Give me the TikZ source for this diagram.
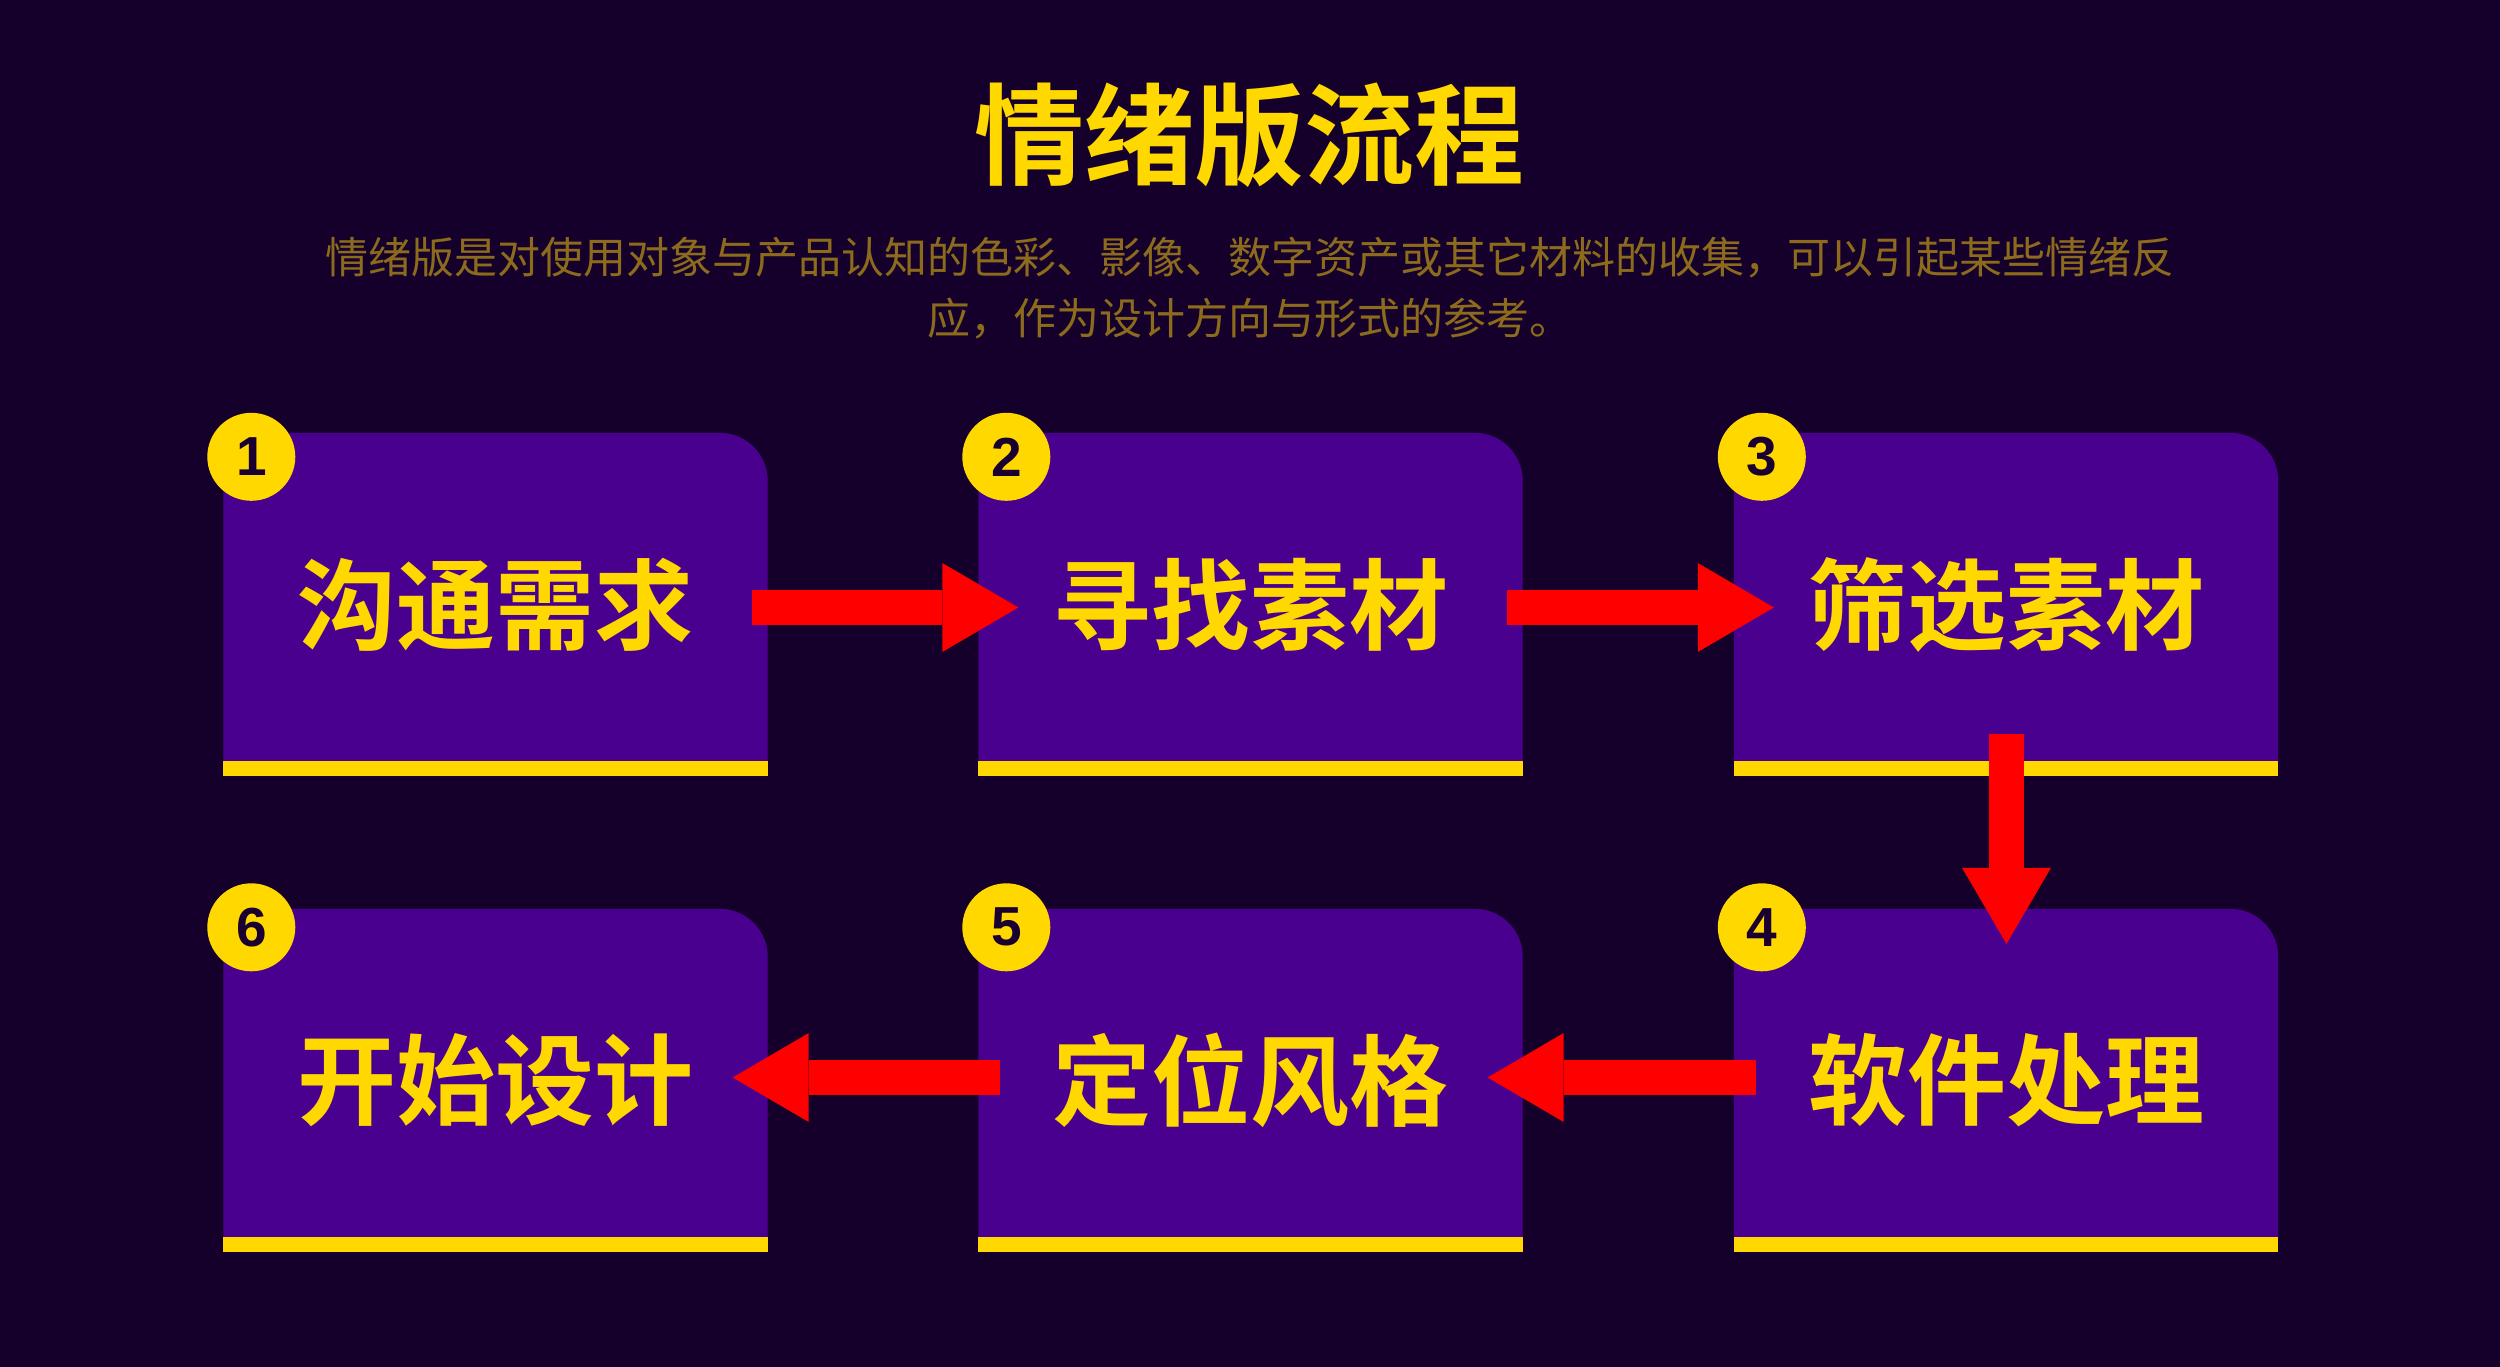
\documentclass[tikz,border=0pt]{standalone}
\usepackage{fontspec}
\newfontfamily\cjk{Noto Sans CJK SC}
\newfontfamily\cjkb{Noto Sans CJK SC Bold}
\newfontfamily\numf{Liberation Sans}
\usetikzlibrary{arrows.meta,calc}
\definecolor{bg}{HTML}{15002B}
\definecolor{boxfill}{HTML}{4A008E}
\definecolor{gold}{HTML}{FFD800}
\definecolor{subgold}{HTML}{8C6B1C}
\definecolor{arrowred}{HTML}{FF0000}
\definecolor{digit}{HTML}{1A0030}
\tikzset{
  stepbox/.style={rectangle, inner sep=0pt, minimum width=544pt, minimum height=343pt,
    text=gold, font=\cjkb\fontsize{99}{110}\selectfont},
  numcirc/.style={circle, fill=gold, inner sep=0pt, minimum size=88pt,
    text=digit, font=\numf\bfseries\fontsize{55}{60}\selectfont},
  bigarrow/.style={draw=arrowred, line width=35pt,
    -{Triangle[length=76pt,width=89pt,line width=0pt]}},
}
\newcommand\boxbody[1]{%
  \fill[boxfill] (#1.south west) -- (#1.north west) [rounded corners=48pt] -- (#1.north east) [sharp corners] -- (#1.south east) -- cycle;
  \fill[gold] ([yshift=15pt]#1.south west) rectangle (#1.south east);
}
\begin{document}
\begin{tikzpicture}[x=1pt,y=-1pt]
\fill[bg] (0,0) rectangle (2500,1367);
\useasboundingbox (0,0) rectangle (2500,1367);

% title
\node[text=gold, font=\cjkb\fontsize{110}{120}\selectfont] (title) at (1249,135) {情绪版流程};
\node[text=subgold, font=\cjk\fontsize{43}{61}\selectfont, align=center] (sub) at (1250,288)
  {情绪版是对使用对象与产品认知的色彩、影像、数字资产或其它材料的收集，可以引起某些情绪反\\应，作为设计方向与形式的参考。};

% boxes row 1
\node[stepbox] (b1) at (495.5,604.5) {};
\node[stepbox] (b2) at (1250.5,604.5) {};
\node[stepbox] (b3) at (2006,604.5) {};
% boxes row 2
\node[stepbox] (b4) at (2006,1080.5) {};
\node[stepbox] (b5) at (1250.5,1080.5) {};
\node[stepbox] (b6) at (495.5,1080.5) {};

\boxbody{b1}\boxbody{b2}\boxbody{b3}\boxbody{b4}\boxbody{b5}\boxbody{b6}

\node[stepbox] (t1) at (b1) {沟通需求};
\node[stepbox] (t2) at (b2) {寻找素材};
\node[stepbox] (t3) at (b3) {筛选素材};
\node[stepbox] (t4) at (b4) {软件处理};
\node[stepbox] (t5) at (b5) {定位风格};
\node[stepbox] (t6) at (b6) {开始设计};

% number circles
\node[numcirc] (n1) at ($(b1.north west)+(28,24)$) {1};
\node[numcirc] (n2) at ($(b2.north west)+(28,24)$) {2};
\node[numcirc] (n3) at ($(b3.north west)+(28,24)$) {3};
\node[numcirc] (n4) at ($(b4.north west)+(28,18.5)$) {4};
\node[numcirc] (n5) at ($(b5.north west)+(28,18.5)$) {5};
\node[numcirc] (n6) at ($(b6.north west)+(28,18.5)$) {6};

% arrows
\draw[bigarrow] ($(b1.east)+(-16,3)$) -- ($(b2.west)+(40,3)$);
\draw[bigarrow] ($(b2.east)+(-16,3)$) -- ($(b3.west)+(40,3)$);
\draw[bigarrow] ($(b3.south)+(0.5,-42)$) -- ($(b4.north)+(0.5,35)$);
\draw[bigarrow] ($(b4.west)+(22,-3)$) -- ($(b5.east)+(-35,-3)$);
\draw[bigarrow] ($(b5.west)+(22,-3)$) -- ($(b6.east)+(-35,-3)$);
\end{tikzpicture}
\end{document}
